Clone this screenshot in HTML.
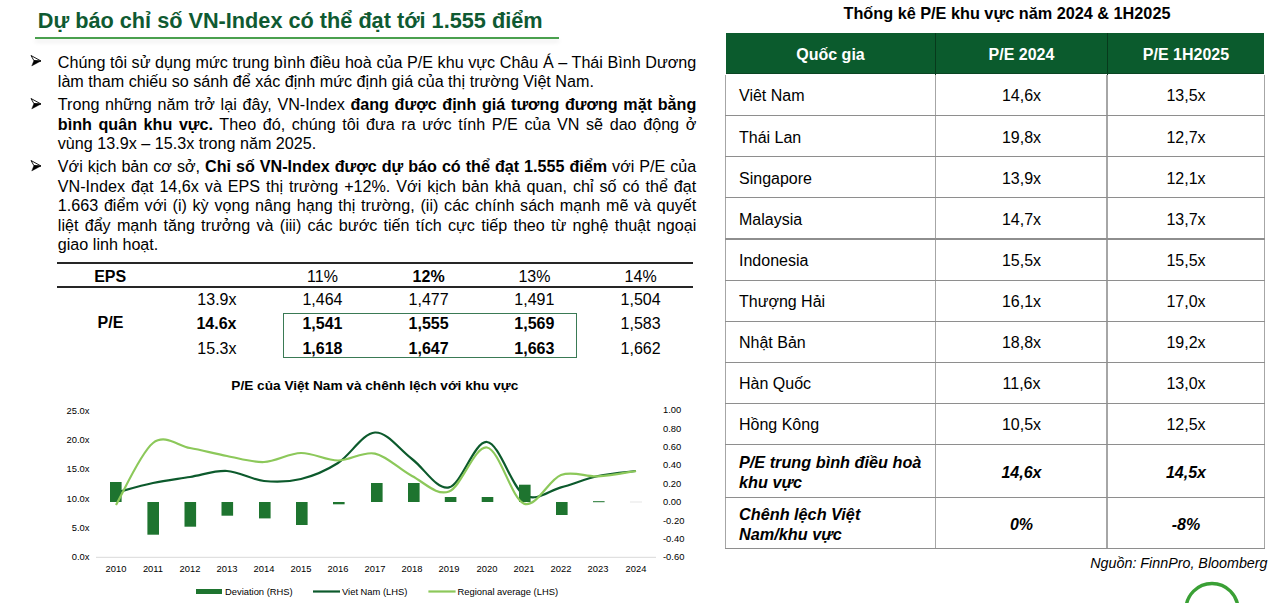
<!DOCTYPE html>
<html><head><meta charset="utf-8"><style>
*{margin:0;padding:0;box-sizing:border-box}
html,body{width:1280px;height:603px;overflow:hidden;background:#fff}
body{position:relative;font-family:"Liberation Sans", sans-serif;color:#000}
.ab{position:absolute;white-space:nowrap}
.ln{position:absolute;left:57.8px;width:638.5px;font-size:16.15px;line-height:20px;height:20px;white-space:nowrap}
.j{text-align:justify;text-align-last:justify;white-space:normal}
b{font-weight:bold}
.arrow{position:absolute;left:30px;width:12px;height:13px}
</style></head><body>

<div class="ab" style="left:37.8px;top:8.2px;font-size:21.7px;line-height:26px;font-weight:bold;color:#0f5a32">Dự báo chỉ số VN-Index có thể đạt tới 1.555 điểm</div>
<div class="ab" style="left:35px;top:36.5px;width:524px;height:2.2px;background:#4aa04e;box-shadow:0 3px 4px rgba(0,0,0,0.10)"></div>
<div class="ln j" style="top:51.76px">Chúng tôi sử dụng mức trung bình điều hoà của P/E khu vực Châu Á – Thái Bình Dương</div>
<div class="ln" style="top:71.26px">làm tham chiếu so sánh để xác định mức định giá của thị trường Việt Nam.</div>
<div class="ln j" style="top:94.26px">Trong những năm trở lại đây, VN-Index <b>đang được định giá tương đương mặt bằng</b></div>
<div class="ln j" style="top:113.86px"><b>bình quân khu vực.</b> Theo đó, chúng tôi đưa ra ước tính P/E của VN sẽ dao động ở</div>
<div class="ln" style="top:133.46px">vùng 13.9x – 15.3x trong năm 2025.</div>
<div class="ln j" style="top:156.46px">Với kịch bản cơ sở, <b>Chỉ số VN-Index được dự báo có thể đạt 1.555 điểm</b> với P/E của</div>
<div class="ln j" style="top:175.86px">VN-Index đạt 14,6x và EPS thị trường +12%. Với kịch bản khả quan, chỉ số có thể đạt</div>
<div class="ln j" style="top:195.26px">1.663 điểm với (i) kỳ vọng nâng hạng thị trường, (ii) các chính sách mạnh mẽ và quyết</div>
<div class="ln j" style="top:214.66px">liệt đẩy mạnh tăng trưởng và (iii) các bước tiến tích cực tiếp theo từ nghệ thuật ngoại</div>
<div class="ln" style="top:234.06px">giao linh hoạt.</div>
<div class="arrow" style="top:53.4px"><svg width="12" height="13" viewBox="0 0 12 13"><path d="M1,1.5 L11,7 L3.9,6.6 Z" fill="none" stroke="#000" stroke-width="0.9" stroke-linejoin="round"/><path d="M3.9,6.5 L11,7 L1.7,12 Z" fill="#000" stroke="#000" stroke-width="0.35" stroke-linejoin="round"/></svg></div>
<div class="arrow" style="top:96.4px"><svg width="12" height="13" viewBox="0 0 12 13"><path d="M1,1.5 L11,7 L3.9,6.6 Z" fill="none" stroke="#000" stroke-width="0.9" stroke-linejoin="round"/><path d="M3.9,6.5 L11,7 L1.7,12 Z" fill="#000" stroke="#000" stroke-width="0.35" stroke-linejoin="round"/></svg></div>
<div class="arrow" style="top:158.4px"><svg width="12" height="13" viewBox="0 0 12 13"><path d="M1,1.5 L11,7 L3.9,6.6 Z" fill="none" stroke="#000" stroke-width="0.9" stroke-linejoin="round"/><path d="M3.9,6.5 L11,7 L1.7,12 Z" fill="#000" stroke="#000" stroke-width="0.35" stroke-linejoin="round"/></svg></div>
<div class="ab" style="left:57.2px;top:262px;width:636px;height:2px;background:#262626"></div>
<div class="ab" style="left:57.2px;top:286px;width:636px;height:2px;background:#262626"></div>
<div class="ab" style="left:283.4px;top:312.8px;width:293.3px;height:45px;border:1.5px solid #3a7a55"></div>
<div class="ab" style="left:-39.8px;width:300px;text-align:center;top:266.96px;font-size:16px;line-height:20px;font-weight:bold;font-style:normal;color:#000">EPS</div>
<div class="ab" style="left:172.5px;width:300px;text-align:center;top:266.96px;font-size:16px;line-height:20px;font-weight:normal;font-style:normal;color:#000">11%</div>
<div class="ab" style="left:278.6px;width:300px;text-align:center;top:266.96px;font-size:16px;line-height:20px;font-weight:bold;font-style:normal;color:#000">12%</div>
<div class="ab" style="left:384.4px;width:300px;text-align:center;top:266.96px;font-size:16px;line-height:20px;font-weight:normal;font-style:normal;color:#000">13%</div>
<div class="ab" style="left:490.6px;width:300px;text-align:center;top:266.96px;font-size:16px;line-height:20px;font-weight:normal;font-style:normal;color:#000">14%</div>
<div class="ab" style="left:-39.5px;width:300px;text-align:center;top:312.96px;font-size:16px;line-height:20px;font-weight:bold;font-style:normal;color:#000">P/E</div>
<div class="ab" style="right:1043.5px;text-align:right;top:289.76px;font-size:16px;line-height:20px;font-weight:normal;font-style:normal;color:#000">13.9x</div>
<div class="ab" style="left:172.5px;width:300px;text-align:center;top:289.76px;font-size:16px;line-height:20px;font-weight:normal;font-style:normal;color:#000">1,464</div>
<div class="ab" style="left:278.6px;width:300px;text-align:center;top:289.76px;font-size:16px;line-height:20px;font-weight:normal;font-style:normal;color:#000">1,477</div>
<div class="ab" style="left:384.4px;width:300px;text-align:center;top:289.76px;font-size:16px;line-height:20px;font-weight:normal;font-style:normal;color:#000">1,491</div>
<div class="ab" style="left:490.6px;width:300px;text-align:center;top:289.76px;font-size:16px;line-height:20px;font-weight:normal;font-style:normal;color:#000">1,504</div>
<div class="ab" style="right:1043.5px;text-align:right;top:314.46px;font-size:16px;line-height:20px;font-weight:bold;font-style:normal;color:#000">14.6x</div>
<div class="ab" style="left:172.5px;width:300px;text-align:center;top:314.46px;font-size:16px;line-height:20px;font-weight:bold;font-style:normal;color:#000">1,541</div>
<div class="ab" style="left:278.6px;width:300px;text-align:center;top:314.46px;font-size:16px;line-height:20px;font-weight:bold;font-style:normal;color:#000">1,555</div>
<div class="ab" style="left:384.4px;width:300px;text-align:center;top:314.46px;font-size:16px;line-height:20px;font-weight:bold;font-style:normal;color:#000">1,569</div>
<div class="ab" style="left:490.6px;width:300px;text-align:center;top:314.46px;font-size:16px;line-height:20px;font-weight:normal;font-style:normal;color:#000">1,583</div>
<div class="ab" style="right:1043.5px;text-align:right;top:339.06px;font-size:16px;line-height:20px;font-weight:normal;font-style:normal;color:#000">15.3x</div>
<div class="ab" style="left:172.5px;width:300px;text-align:center;top:339.06px;font-size:16px;line-height:20px;font-weight:bold;font-style:normal;color:#000">1,618</div>
<div class="ab" style="left:278.6px;width:300px;text-align:center;top:339.06px;font-size:16px;line-height:20px;font-weight:bold;font-style:normal;color:#000">1,647</div>
<div class="ab" style="left:384.4px;width:300px;text-align:center;top:339.06px;font-size:16px;line-height:20px;font-weight:bold;font-style:normal;color:#000">1,663</div>
<div class="ab" style="left:490.6px;width:300px;text-align:center;top:339.06px;font-size:16px;line-height:20px;font-weight:normal;font-style:normal;color:#000">1,662</div>
<svg class="ab" style="left:0;top:0" width="1280" height="603" viewBox="0 0 1280 603">
<g font-family="Liberation Sans, sans-serif" fill="#000">
<text x="374.8" y="390.2" font-size="13.65" font-weight="bold" text-anchor="middle">P/E của Việt Nam và chênh lệch với khu vực</text>
<text x="89.5" y="413.8" font-size="9.4" text-anchor="end">25.0x</text>
<text x="89.5" y="443.1" font-size="9.4" text-anchor="end">20.0x</text>
<text x="89.5" y="472.4" font-size="9.4" text-anchor="end">15.0x</text>
<text x="89.5" y="501.7" font-size="9.4" text-anchor="end">10.0x</text>
<text x="89.5" y="531.0" font-size="9.4" text-anchor="end">5.0x</text>
<text x="89.5" y="560.3" font-size="9.4" text-anchor="end">0.0x</text>
<text x="663" y="413.1" font-size="9.4">1.00</text>
<text x="663" y="431.5" font-size="9.4">0.80</text>
<text x="663" y="449.9" font-size="9.4">0.60</text>
<text x="663" y="468.3" font-size="9.4">0.40</text>
<text x="663" y="486.7" font-size="9.4">0.20</text>
<text x="663" y="505.1" font-size="9.4">0.00</text>
<text x="663" y="523.5" font-size="9.4">-0.20</text>
<text x="663" y="541.9" font-size="9.4">-0.40</text>
<text x="663" y="560.3" font-size="9.4">-0.60</text>
<text x="116" y="571.5" font-size="9.4" text-anchor="middle">2010</text>
<text x="153" y="571.5" font-size="9.4" text-anchor="middle">2011</text>
<text x="190" y="571.5" font-size="9.4" text-anchor="middle">2012</text>
<text x="227" y="571.5" font-size="9.4" text-anchor="middle">2013</text>
<text x="264" y="571.5" font-size="9.4" text-anchor="middle">2014</text>
<text x="301" y="571.5" font-size="9.4" text-anchor="middle">2015</text>
<text x="338" y="571.5" font-size="9.4" text-anchor="middle">2016</text>
<text x="375" y="571.5" font-size="9.4" text-anchor="middle">2017</text>
<text x="412" y="571.5" font-size="9.4" text-anchor="middle">2018</text>
<text x="449" y="571.5" font-size="9.4" text-anchor="middle">2019</text>
<text x="487" y="571.5" font-size="9.4" text-anchor="middle">2020</text>
<text x="524" y="571.5" font-size="9.4" text-anchor="middle">2021</text>
<text x="561" y="571.5" font-size="9.4" text-anchor="middle">2022</text>
<text x="598" y="571.5" font-size="9.4" text-anchor="middle">2023</text>
<text x="636" y="571.5" font-size="9.4" text-anchor="middle">2024</text>
</g>
<line x1="96" y1="557.3" x2="656" y2="557.3" stroke="#d9d9d9" stroke-width="1"/>
<path d="M116.0,492.6 C122.2,491.0 140.7,485.6 153.0,483.0 C165.3,480.4 177.7,479.0 190.0,477.0 C202.3,475.0 214.7,470.3 227.0,471.0 C239.3,471.7 251.7,479.7 264.0,481.0 C276.3,482.3 288.7,482.0 301.0,479.0 C313.3,476.0 325.7,470.8 338.0,463.0 C350.3,455.2 362.7,433.2 375.0,432.5 C387.3,431.8 399.7,449.9 412.0,459.0 C424.3,468.1 436.5,490.2 449.0,487.4 C461.5,484.6 474.5,440.7 487.0,442.0 C499.5,443.3 511.7,487.4 524.0,495.0 C536.3,502.6 548.7,490.6 561.0,487.4 C573.3,484.2 585.5,478.7 598.0,476.0 C610.5,473.3 629.7,471.8 636.0,471.0" fill="none" stroke="#0c5a2c" stroke-width="2.2"/>
<rect x="110" y="482" width="11.6" height="20.0" fill="#1e742f"/>
<rect x="147.4" y="502" width="11.6" height="32.7" fill="#1e742f"/>
<rect x="184.5" y="502" width="11.6" height="24.7" fill="#1e742f"/>
<rect x="221.5" y="502" width="11.6" height="13.7" fill="#1e742f"/>
<rect x="259" y="502" width="11.6" height="16.4" fill="#1e742f"/>
<rect x="296" y="502" width="11.6" height="23.0" fill="#1e742f"/>
<rect x="333" y="502" width="11.6" height="2.3" fill="#1e742f"/>
<rect x="371" y="483" width="11.6" height="19.0" fill="#1e742f"/>
<rect x="408" y="483" width="11.6" height="19.0" fill="#1e742f"/>
<rect x="444.8" y="497" width="11.6" height="5.0" fill="#1e742f"/>
<rect x="481.7" y="497" width="11.6" height="5.0" fill="#1e742f"/>
<rect x="519" y="484.7" width="11.6" height="17.3" fill="#1e742f"/>
<rect x="556" y="502" width="11.6" height="13.0" fill="#1e742f"/>
<rect x="593" y="501.2" width="11.6" height="1.0" fill="#1e742f"/>
<rect x="630" y="501.5" width="12" height="1" fill="#e6e6e6"/>
<path d="M116.0,505.0 C122.2,494.7 140.7,452.5 153.0,443.0 C165.3,433.5 177.7,445.8 190.0,448.0 C202.3,450.2 214.7,453.7 227.0,456.0 C239.3,458.3 251.7,462.5 264.0,462.0 C276.3,461.5 288.7,453.2 301.0,453.0 C313.3,452.8 325.7,460.4 338.0,460.5 C350.3,460.6 362.7,451.0 375.0,453.6 C387.3,456.2 399.7,469.7 412.0,476.0 C424.3,482.3 436.5,496.2 449.0,491.5 C461.5,486.8 474.5,445.5 487.0,447.5 C499.5,449.5 511.7,499.0 524.0,503.6 C536.3,508.2 548.7,479.5 561.0,475.0 C573.3,470.5 585.5,477.1 598.0,476.4 C610.5,475.7 629.7,471.9 636.0,471.0" fill="none" stroke="#8cc85a" stroke-width="2.2"/>
<rect x="196" y="589" width="26" height="5" fill="#1e742f"/>
<line x1="313" y1="591.5" x2="340" y2="591.5" stroke="#0c5a2c" stroke-width="2.2"/>
<line x1="428.4" y1="591.5" x2="455.6" y2="591.5" stroke="#8cc85a" stroke-width="2.2"/>
<g font-family="Liberation Sans, sans-serif" fill="#000" font-size="9.4">
<text x="225" y="594.8">Deviation (RHS)</text>
<text x="342" y="594.8">Viet Nam (LHS)</text>
<text x="457.5" y="594.8">Regional average (LHS)</text>
</g>
<circle cx="1212" cy="609.5" r="26" fill="none" stroke="#3aa035" stroke-width="3.4"/>
</svg>
<div class="ab" style="left:843.5px;top:3.3px;font-size:16.25px;line-height:20px;font-weight:bold">Thống kê P/E khu vực năm 2024 &amp; 1H2025</div>
<div class="ab" style="left:725.6px;top:32.8px;width:538.8000000000001px;height:41.7px;background:#0b5b2d"></div>
<div class="ab" style="left:934.8px;top:32.8px;width:1px;height:42px;background:#073a1c"></div>
<div class="ab" style="left:1106.5px;top:32.8px;width:1px;height:42px;background:#073a1c"></div>
<div class="ab" style="left:725.6px;top:73.3px;width:538.8000000000001px;height:1.2px;background:#0a4524"></div>
<div class="ab" style="left:680.5px;width:300px;text-align:center;top:45.16px;font-size:16px;line-height:20px;font-weight:bold;font-style:normal;color:#fff">Quốc gia</div>
<div class="ab" style="left:871.5px;width:300px;text-align:center;top:45.16px;font-size:16px;line-height:20px;font-weight:bold;font-style:normal;color:#fff">P/E 2024</div>
<div class="ab" style="left:1036px;width:300px;text-align:center;top:45.16px;font-size:16px;line-height:20px;font-weight:bold;font-style:normal;color:#fff">P/E 1H2025</div>
<div class="ab" style="left:724.8px;top:74.5px;width:1.6px;height:474.5px;background:#a6a6a6"></div>
<div class="ab" style="left:934.5px;top:74.5px;width:1.6px;height:474.5px;background:#a6a6a6"></div>
<div class="ab" style="left:1106.2px;top:74.5px;width:1.6px;height:474.5px;background:#a6a6a6"></div>
<div class="ab" style="left:1263.6px;top:74.5px;width:1.6px;height:474.5px;background:#a6a6a6"></div>
<div class="ab" style="left:724.8000000000001px;top:115.1px;width:540.4000000000001px;height:1.2px;background:#8e8e8e"></div>
<div class="ab" style="left:724.8000000000001px;top:156.2px;width:540.4000000000001px;height:1.2px;background:#8e8e8e"></div>
<div class="ab" style="left:724.8000000000001px;top:197.3px;width:540.4000000000001px;height:1.2px;background:#8e8e8e"></div>
<div class="ab" style="left:724.8000000000001px;top:238.4px;width:540.4000000000001px;height:1.2px;background:#8e8e8e"></div>
<div class="ab" style="left:724.8000000000001px;top:279.5px;width:540.4000000000001px;height:1.2px;background:#8e8e8e"></div>
<div class="ab" style="left:724.8000000000001px;top:320.6px;width:540.4000000000001px;height:1.2px;background:#8e8e8e"></div>
<div class="ab" style="left:724.8000000000001px;top:361.7px;width:540.4000000000001px;height:1.2px;background:#8e8e8e"></div>
<div class="ab" style="left:724.8000000000001px;top:402.7px;width:540.4000000000001px;height:1.2px;background:#8e8e8e"></div>
<div class="ab" style="left:724.8000000000001px;top:443.8px;width:540.4000000000001px;height:1.2px;background:#8e8e8e"></div>
<div class="ab" style="left:724.8000000000001px;top:496.5px;width:540.4000000000001px;height:1.2px;background:#8e8e8e"></div>
<div class="ab" style="left:724.8000000000001px;top:547.8px;width:540.4000000000001px;height:1.2px;background:#8e8e8e"></div>
<div class="ab" style="left:739.0px;top:86.46px;font-size:16px;line-height:20px;font-weight:normal;font-style:normal;color:#000">Viêt Nam</div>
<div class="ab" style="left:871.5px;width:300px;text-align:center;top:86.46px;font-size:16px;line-height:20px;font-weight:normal;font-style:normal;color:#000">14,6x</div>
<div class="ab" style="left:1036px;width:300px;text-align:center;top:86.46px;font-size:16px;line-height:20px;font-weight:normal;font-style:normal;color:#000">13,5x</div>
<div class="ab" style="left:739.0px;top:127.66px;font-size:16px;line-height:20px;font-weight:normal;font-style:normal;color:#000">Thái Lan</div>
<div class="ab" style="left:871.5px;width:300px;text-align:center;top:127.66px;font-size:16px;line-height:20px;font-weight:normal;font-style:normal;color:#000">19,8x</div>
<div class="ab" style="left:1036px;width:300px;text-align:center;top:127.66px;font-size:16px;line-height:20px;font-weight:normal;font-style:normal;color:#000">12,7x</div>
<div class="ab" style="left:739.0px;top:168.76px;font-size:16px;line-height:20px;font-weight:normal;font-style:normal;color:#000">Singapore</div>
<div class="ab" style="left:871.5px;width:300px;text-align:center;top:168.76px;font-size:16px;line-height:20px;font-weight:normal;font-style:normal;color:#000">13,9x</div>
<div class="ab" style="left:1036px;width:300px;text-align:center;top:168.76px;font-size:16px;line-height:20px;font-weight:normal;font-style:normal;color:#000">12,1x</div>
<div class="ab" style="left:739.0px;top:209.86px;font-size:16px;line-height:20px;font-weight:normal;font-style:normal;color:#000">Malaysia</div>
<div class="ab" style="left:871.5px;width:300px;text-align:center;top:209.86px;font-size:16px;line-height:20px;font-weight:normal;font-style:normal;color:#000">14,7x</div>
<div class="ab" style="left:1036px;width:300px;text-align:center;top:209.86px;font-size:16px;line-height:20px;font-weight:normal;font-style:normal;color:#000">13,7x</div>
<div class="ab" style="left:739.0px;top:250.96px;font-size:16px;line-height:20px;font-weight:normal;font-style:normal;color:#000">Indonesia</div>
<div class="ab" style="left:871.5px;width:300px;text-align:center;top:250.96px;font-size:16px;line-height:20px;font-weight:normal;font-style:normal;color:#000">15,5x</div>
<div class="ab" style="left:1036px;width:300px;text-align:center;top:250.96px;font-size:16px;line-height:20px;font-weight:normal;font-style:normal;color:#000">15,5x</div>
<div class="ab" style="left:739.0px;top:292.06px;font-size:16px;line-height:20px;font-weight:normal;font-style:normal;color:#000">Thượng Hải</div>
<div class="ab" style="left:871.5px;width:300px;text-align:center;top:292.06px;font-size:16px;line-height:20px;font-weight:normal;font-style:normal;color:#000">16,1x</div>
<div class="ab" style="left:1036px;width:300px;text-align:center;top:292.06px;font-size:16px;line-height:20px;font-weight:normal;font-style:normal;color:#000">17,0x</div>
<div class="ab" style="left:739.0px;top:333.16px;font-size:16px;line-height:20px;font-weight:normal;font-style:normal;color:#000">Nhật Bản</div>
<div class="ab" style="left:871.5px;width:300px;text-align:center;top:333.16px;font-size:16px;line-height:20px;font-weight:normal;font-style:normal;color:#000">18,8x</div>
<div class="ab" style="left:1036px;width:300px;text-align:center;top:333.16px;font-size:16px;line-height:20px;font-weight:normal;font-style:normal;color:#000">19,2x</div>
<div class="ab" style="left:739.0px;top:374.26px;font-size:16px;line-height:20px;font-weight:normal;font-style:normal;color:#000">Hàn Quốc</div>
<div class="ab" style="left:871.5px;width:300px;text-align:center;top:374.26px;font-size:16px;line-height:20px;font-weight:normal;font-style:normal;color:#000">11,6x</div>
<div class="ab" style="left:1036px;width:300px;text-align:center;top:374.26px;font-size:16px;line-height:20px;font-weight:normal;font-style:normal;color:#000">13,0x</div>
<div class="ab" style="left:739.0px;top:415.26px;font-size:16px;line-height:20px;font-weight:normal;font-style:normal;color:#000">Hồng Kông</div>
<div class="ab" style="left:871.5px;width:300px;text-align:center;top:415.26px;font-size:16px;line-height:20px;font-weight:normal;font-style:normal;color:#000">10,5x</div>
<div class="ab" style="left:1036px;width:300px;text-align:center;top:415.26px;font-size:16px;line-height:20px;font-weight:normal;font-style:normal;color:#000">12,5x</div>
<div class="ab" style="left:739.0px;top:452.27px;font-size:16.25px;line-height:20px;font-weight:bold;font-style:italic;color:#000">P/E trung bình điều hoà</div>
<div class="ab" style="left:739.0px;top:471.77px;font-size:16.25px;line-height:20px;font-weight:bold;font-style:italic;color:#000">khu vực</div>
<div class="ab" style="left:871.5px;width:300px;text-align:center;top:463.16px;font-size:16px;line-height:20px;font-weight:bold;font-style:italic;color:#000">14,6x</div>
<div class="ab" style="left:1036px;width:300px;text-align:center;top:463.16px;font-size:16px;line-height:20px;font-weight:bold;font-style:italic;color:#000">14,5x</div>
<div class="ab" style="left:739.0px;top:503.97px;font-size:16.25px;line-height:20px;font-weight:bold;font-style:italic;color:#000">Chênh lệch Việt</div>
<div class="ab" style="left:739.0px;top:523.67px;font-size:16.25px;line-height:20px;font-weight:bold;font-style:italic;color:#000">Nam/khu vực</div>
<div class="ab" style="left:871.5px;width:300px;text-align:center;top:515.16px;font-size:16px;line-height:20px;font-weight:bold;font-style:italic;color:#000">0%</div>
<div class="ab" style="left:1036px;width:300px;text-align:center;top:515.16px;font-size:16px;line-height:20px;font-weight:bold;font-style:italic;color:#000">-8%</div>
<div class="ab" style="right:12.5px;text-align:right;top:553.05px;font-size:14.3px;line-height:20px;font-weight:normal;font-style:italic;color:#000">Nguồn: FinnPro, Bloomberg</div>
</body></html>
